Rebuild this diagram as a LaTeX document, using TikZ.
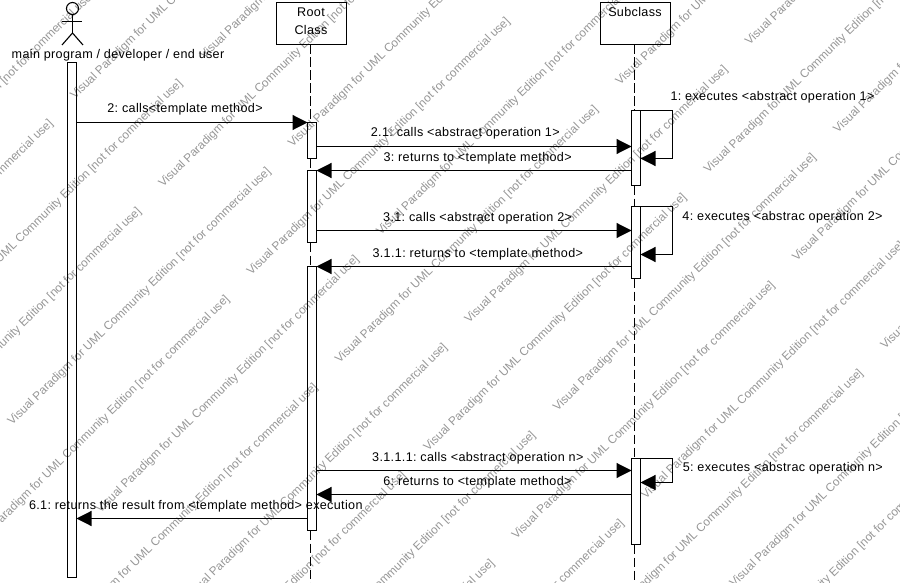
\documentclass[tikz,border=0pt]{standalone}
\usepackage{fontspec}
\setmainfont{Liberation Sans}
\newfontfamily\lblfont[LetterSpace=2.7]{Liberation Sans}
\usetikzlibrary{arrows.meta}
\definecolor{wmgray}{HTML}{969696}
\tikzset{
  lbl/.style={font=\frenchspacing\lblfont\fontsize{12.6}{14}\selectfont,anchor=base,inner sep=0pt,text=black},
  wm/.style={font=\frenchspacing\fontsize{11.8}{14}\selectfont,anchor=base west,inner sep=0pt,text=wmgray,rotate=44.4},
  bar/.style={draw=black,line width=1.15pt,minimum width=9pt,inner sep=0pt,outer sep=0pt,anchor=north west},
  cls/.style={draw=black,line width=1.15pt,minimum width=70pt,minimum height=42pt,inner sep=0pt,outer sep=0pt,anchor=north west},
  msg/.style={line width=1.15pt,-{Triangle[length=15pt,width=15pt]}},
  life/.style={line width=1.15pt,dash pattern=on 9.5pt off 3.5pt},
  stick/.style={line width=1.1pt}
}
\begin{document}
\begin{tikzpicture}[x=1pt,y=-1pt]
\useasboundingbox (0,0) rectangle (900,583);
\begin{scope}
\clip (0,0) rectangle (900,583);
\foreach \n in {-1,...,1}{
 \foreach \bx/\by/\p in {163/188/a,292.5/148/b}{
  \foreach \k in {-8,...,10}{
   \pgfmathsetmacro{\wx}{\bx+\n*457+\k*88.3}
   \pgfmathsetmacro{\wy}{\by-\n*102+\k*87.9}
   \ifdim\wx pt>-380pt \ifdim\wx pt<900pt \ifdim\wy pt>0pt \ifdim\wy pt<950pt
     \node[wm] (wm\p\n k\k) at (\wx,\wy) {Visual Paradigm for UML Community Edition [not for commercial use]};
   \fi\fi\fi\fi
  }
 }
}
\end{scope}
% actor
\node[circle,draw=black,line width=1.1pt,minimum size=12pt,inner sep=0pt,outer sep=0pt] (head) at (72.5,8.5) {};
\coordinate (hip) at (72.5,33);
\coordinate (armL) at (61.7,21.5);
\coordinate (armR) at (82.3,21.5);
\coordinate (legL) at (62,45);
\coordinate (legR) at (83,45);
\draw[stick] (head.south) -- (hip);
\draw[stick] (armL) -- (armR);
\draw[stick] (legL) -- (hip) -- (legR);
\node[lbl] (actorlabel) at (118,59) {main program / developer / end user};
% class boxes
\node[cls] (root) at (276.5,2.5) {};
\node[lbl] (rootA) at (311,17) {Root};
\node[lbl] (rootB) at (311,35) {Class};
\node[cls] (sub) at (600.5,2.5) {};
\node[lbl] (subl) at (635,17) {Subclass};
% activation bars
\node[bar,minimum height=515pt] (main) at (67.5,62.5) {};
\node[bar,minimum height=36pt] (r1) at (307.5,122.5) {};
\node[bar,minimum height=72pt] (r2) at (307.5,170.5) {};
\node[bar,minimum height=264pt] (r3) at (307.5,266.5) {};
\node[bar,minimum height=75pt] (s1) at (631.5,110.5) {};
\node[bar,minimum height=72pt] (s2) at (631.5,206.5) {};
\node[bar,minimum height=86pt] (s3) at (631.5,458.5) {};
% lifelines
\coordinate (lr) at (310.5,0);
\coordinate (ls) at (634.5,0);
\coordinate (rend) at (310.5,583);
\coordinate (send) at (634.5,583);
\draw[life] (root.south -| lr) -- (r1.north -| lr);
\draw[life] (r1.south -| lr) -- (r2.north -| lr);
\draw[life] (r2.south -| lr) -- (r3.north -| lr);
\draw[life] (r3.south -| lr) -- (rend);
\draw[life] (sub.south -| ls) -- (s1.north -| ls);
\draw[life] (s1.south -| ls) -- (s2.north -| ls);
\draw[life] (s2.south -| ls) -- (s3.north -| ls);
\draw[life] (s3.south -| ls) -- (send);
% messages
\coordinate (y2) at (0,122.5);
\coordinate (y21) at (0,146.5);
\coordinate (y3) at (0,170.5);
\coordinate (y31) at (0,230.5);
\coordinate (y311) at (0,266.5);
\coordinate (y3111) at (0,470.5);
\coordinate (y6) at (0,494.5);
\coordinate (y61) at (0,518.5);
\draw[msg] (main.east |- y2) -- (r1.west |- y2);
\draw[msg] (r1.east |- y21) -- (s1.west |- y21);
\draw[msg] (s1.west |- y3) -- (r2.east |- y3);
\draw[msg] (r2.east |- y31) -- (s2.west |- y31);
\draw[msg] (s2.west |- y311) -- (r3.east |- y311);
\draw[msg] (r3.east |- y3111) -- (s3.west |- y3111);
\draw[msg] (s3.west |- y6) -- (r3.east |- y6);
\draw[msg] (r3.west |- y61) -- (main.east |- y61);
% self messages
\coordinate (c1a) at (672.5,110.5);
\coordinate (c1b) at (672.5,158.5);
\coordinate (c2a) at (672.5,206.5);
\coordinate (c2b) at (672.5,254.5);
\coordinate (c3a) at (672.5,458.5);
\coordinate (c3b) at (672.5,482.5);
\draw[msg] (s1.north east) -- (c1a) -- (c1b) -- (s1.east |- c1b);
\draw[msg] (s2.north east) -- (c2a) -- (c2b) -- (s2.east |- c2b);
\draw[msg] (s3.north east) -- (c3a) -- (c3b) -- (s3.east |- c3b);
% labels
\node[lbl] (m2) at (185,113) {2: calls<template method>};
\node[lbl] (m1) at (772.5,101) {1: executes <abstract operation 1>};
\node[lbl] (m21) at (465.3,137) {2.1: calls <abstract operation 1>};
\node[lbl] (m3) at (477.6,161) {3: returns to <template method>};
\node[lbl] (m31) at (477.6,221) {3.1: calls <abstract operation 2>};
\node[lbl] (m311) at (477.8,257) {3.1.1: returns to <template method>};
\node[lbl] (m4) at (782.5,220) {4: executes <abstrac operation 2>};
\node[lbl] (m3111) at (477.8,461) {3.1.1.1: calls <abstract operation n>};
\node[lbl] (m6) at (477.4,485) {6: returns to <template method>};
\node[lbl] (m61) at (195.8,509.3) {6.1: returns the result from <template method> execution};
\node[lbl] (m5) at (782.8,471) {5: executes <abstrac operation n>};
\end{tikzpicture}
\end{document}
